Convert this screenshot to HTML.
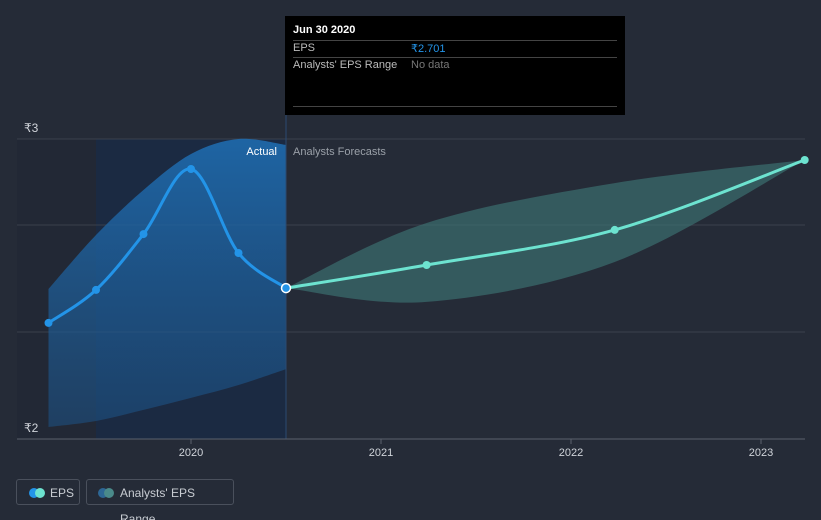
<!DOCTYPE html>
<html><head><meta charset="utf-8"><style>
body{margin:0;background:#252b37;font-family:"Liberation Sans",sans-serif;}
#wrap{position:relative;width:821px;height:520px;overflow:hidden;}
.leg{position:absolute;top:479px;height:26px;border:1px solid #4a505c;border-radius:3px;color:#c8ccd2;font-size:12px;line-height:26px;box-sizing:border-box;}
.dot{position:absolute;top:8px;width:10px;height:10px;border-radius:5px;}
</style></head><body>
<div id="wrap">
<svg id="svg" width="821" height="520" style="position:absolute;left:0;top:0">
<defs>
<linearGradient id="bg" x1="0" y1="0" x2="0" y2="1"><stop offset="0" stop-color="#1f6fb5" stop-opacity="0.85"/><stop offset="1" stop-color="#1d4f80" stop-opacity="0.6"/></linearGradient>
</defs>
</svg>
<div class="leg" style="left:16px;width:64px"><span class="dot" style="left:12px;background:#2394e8"></span><span class="dot" style="left:18px;background:#6de3d0"></span><span style="position:absolute;left:33px">EPS</span></div>
<div class="leg" style="left:86px;width:148px"><span class="dot" style="left:11px;background:#2d6795"></span><span class="dot" style="left:17px;background:#4a8a8a"></span><span style="position:absolute;left:33px">Analysts' EPS Range</span></div>
<div style="position:absolute;left:285px;top:16px;width:340px;height:99px;background:#000">
<div style="position:absolute;left:8px;top:8px;color:#fff;font-size:11px;font-weight:bold">Jun 30 2020</div>
<div style="position:absolute;left:8px;right:8px;top:24px;border-top:1px solid #444"></div>
<div style="position:absolute;left:8px;top:26px;color:#bbb;font-size:11px">EPS</div>
<div style="position:absolute;left:126px;top:26px;color:#2394e8;font-size:11px">₹2.701</div>
<div style="position:absolute;left:8px;right:8px;top:41px;border-top:1px solid #444"></div>
<div style="position:absolute;left:8px;top:43px;color:#bbb;font-size:11px">Analysts' EPS Range</div>
<div style="position:absolute;left:126px;top:43px;color:#777;font-size:11px">No data</div>
<div style="position:absolute;left:8px;right:8px;top:90px;border-top:1px solid #444"></div>
</div>
</div>
<script>
const actualDates=[2019.25,2019.5,2019.75,2020.0,2020.25,2020.5];
const actualEps=[2.387,2.497,2.683,2.9,2.62,2.503];
const actualHigh=[2.5,2.68,2.83,2.95,3.0,2.98];
const actualLow=[2.04,2.06,2.097,2.137,2.18,2.233];
const fcDates=[2020.5,2021.24,2022.23,2023.23];
const fcEps=[2.503,2.58,2.697,2.93];
const fcHigh=[2.503,2.72,2.853,2.93];
const fcLow=[2.503,2.457,2.59,2.93];
const yTicks=[2,3];
const xTicks=[2020,2021,2022,2023];
const NS="http://www.w3.org/2000/svg";
const svg=document.getElementById('svg');
const X=d=>191+(d-2020)*190;
const Y=v=>439-(v-2)*300;
function el(t,a,name){const e=document.createElementNS(NS,t);for(const k in a)e.setAttribute(k,a[k]);


svg.appendChild(e);return e;}
function curve(xs,ys){const p=xs.map((x,i)=>[X(x),Y(ys[i])]);let d='M'+p[0][0]+','+p[0][1];
for(let i=0;i<p.length-1;i++){const p0=p[i-1]||p[i],p1=p[i],p2=p[i+1],p3=p[i+2]||p2;
d+=' C'+(p1[0]+(p2[0]-p0[0])/6)+','+(p1[1]+(p2[1]-p0[1])/6)+' '+(p2[0]-(p3[0]-p1[0])/6)+','+(p2[1]-(p3[1]-p1[1])/6)+' '+p2[0]+','+p2[1];}return d;}
function band(xs,hi,lo){const a=curve(xs,hi);const b=curve(xs.slice().reverse(),lo.slice().reverse());return a+' L'+b.slice(1)+' Z';}
el('rect',{x:17,y:139,width:X(2020.5)-17,height:300,fill:'#222835'},'history-shade');
el('rect',{x:X(2019.5),y:139,width:X(2020.5)-X(2019.5),height:300,fill:'#1b2a42'},'past-year-highlight');
[139,225,332].forEach((y,i)=>el('line',{x1:17,x2:805,y1:y,y2:y,stroke:'#3a404c'},'gridline'));
el('path',{d:band(actualDates,actualHigh,actualLow),fill:'url(#bg)'},'actual-range-band');
el('path',{d:band(fcDates,fcHigh,fcLow),fill:'#3f7a78',opacity:0.6},'forecast-range-band');
el('line',{x1:X(2020.5),x2:X(2020.5),y1:115,y2:439,stroke:'#2b4a70'},'today-divider');
el('line',{x1:17,x2:805,y1:439,y2:439,stroke:'#5a606c'},'x-axis');
el('path',{d:curve(actualDates,actualEps),fill:'none',stroke:'#2394e8','stroke-width':3},'eps-actual-line');
el('path',{d:curve(fcDates,fcEps),fill:'none',stroke:'#6de3d0','stroke-width':3},'eps-forecast-line');
actualDates.forEach((d,i)=>{if(i<actualDates.length-1)el('circle',{cx:X(d),cy:Y(actualEps[i]),r:4,fill:'#2394e8'},'eps-point');});
el('circle',{cx:X(actualDates[5]),cy:Y(actualEps[5]),r:4.5,fill:'#2394e8',stroke:'#fff','stroke-width':1.5},'eps-selected-point');
fcDates.forEach((d,i)=>{if(i>0)el('circle',{cx:X(d),cy:Y(fcEps[i]),r:4,fill:'#6de3d0'},'forecast-point');});
yTicks.forEach(v=>{const t=el('text',{x:24,y:Y(v)-7,fill:'#d0d4da','font-size':12},'y-tick-label');t.textContent='₹'+v;});
xTicks.forEach(v=>{el('line',{x1:X(v),x2:X(v),y1:439,y2:444,stroke:'#5a606c'},'x-tick');const t=el('text',{x:X(v),y:456,fill:'#d0d4da','font-size':11,'text-anchor':'middle'},'x-tick-label');t.textContent=v;});
let t=el('text',{x:277,y:155,fill:'#fff','font-size':11,'text-anchor':'end'},'actual-label');t.textContent='Actual';
t=el('text',{x:293,y:155,fill:'#9aa0a8','font-size':11},'forecast-label');t.textContent='Analysts Forecasts';
</script>
</body></html>
